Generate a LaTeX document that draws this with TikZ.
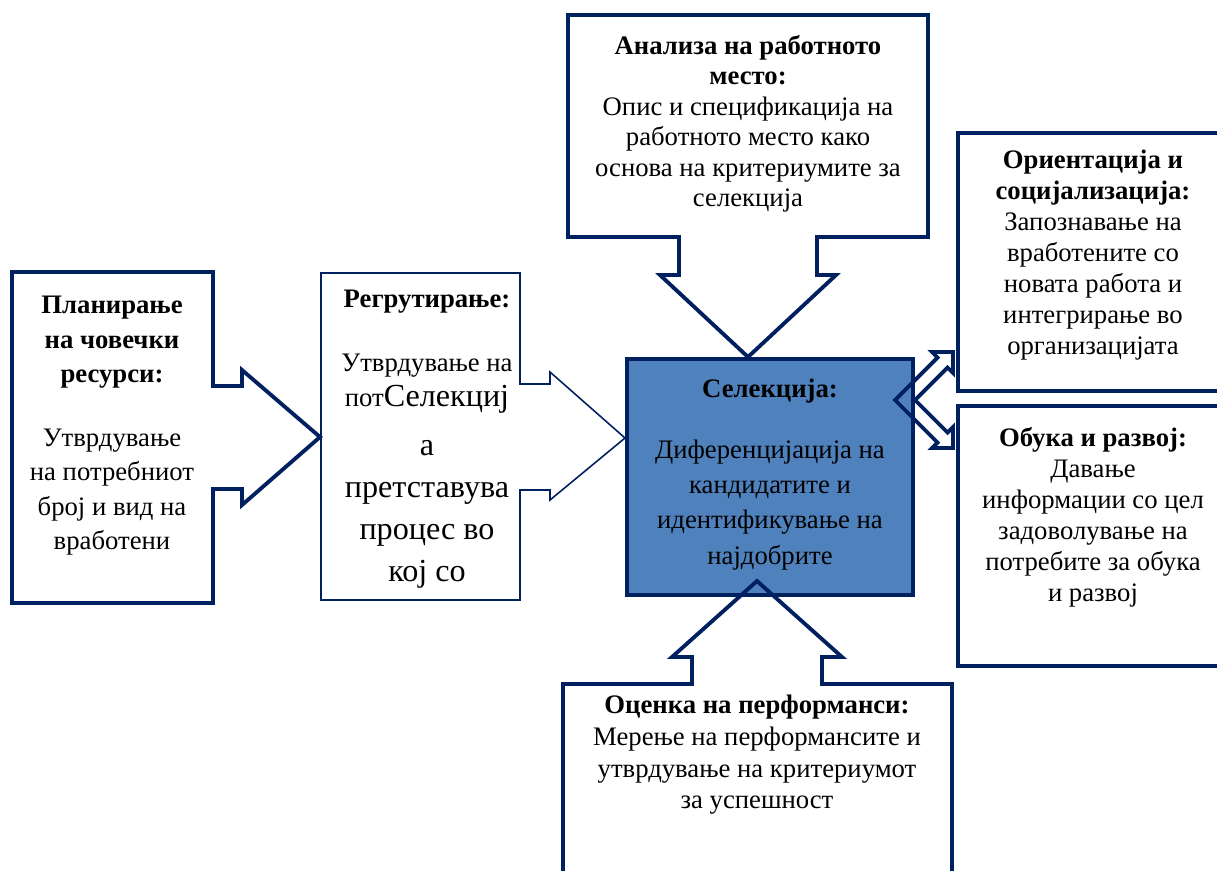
\documentclass[tikz,border=0pt]{standalone}
\usepackage{fontspec}
\setmainfont{Liberation Serif}
\usepackage{xcolor}
\definecolor{navy}{HTML}{002060}
\definecolor{selblue}{HTML}{4F81BD}

\begin{document}
\begin{tikzpicture}[x=0.02cm, y=-0.02cm]
        % ================= 样式定义 =================
        \tikzset{
            % 粗深蓝边框 (标注框)
            thick_edge/.style={draw=navy, line width=2.2pt, line join=miter},
            % 细边框 (招聘框)
            thin_edge/.style={draw=navy, line width=0.9pt, line join=miter},
            % 中心蓝色方框
            sel_box/.style={draw=navy, line width=2.4pt, fill=selblue},
            % 文本
            box_text/.style={align=center, inner sep=0pt, anchor=north, font=\fontsize{15.2}{19.6}\selectfont}
        }

        % ================= 画布 =================
        \useasboundingbox (0,0) rectangle (1217,870);
        \clip (0,0) rectangle (1217,870);

        % ================= 形状 =================
        % 中心方框
        \draw[sel_box] (627,359) rectangle (913,595);

        % 左侧标注框 (箭头向右)
        \draw[thick_edge] (12,272) -- (213,272) -- (213,386) -- (242,386) -- (242,370) -- (320,437)
            -- (242,505) -- (242,489) -- (213,489) -- (213,603) -- (12,603) -- cycle;
        % 招聘标注框 (细线)
        \draw[thin_edge] (321,273) -- (520,273) -- (520,384) -- (550,384) -- (550,372) -- (625,438)
            -- (550,500) -- (550,490) -- (520,490) -- (520,600) -- (321,600) -- cycle;
        % 上方标注框 (箭头向下)
        \draw[thick_edge] (568,15) -- (928,15) -- (928,237) -- (817,237) -- (817,275) -- (836,275)
            -- (748,357) -- (660,275) -- (679,275) -- (679,237) -- (568,237) -- cycle;
        % 下方标注框 (箭头向上)
        \draw[thick_edge] (563,900) -- (563,684) -- (692,684) -- (692,657) -- (672,657) -- (757,581)
            -- (842,657) -- (822,657) -- (822,684) -- (952,684) -- (952,900);
        % 右侧两个方框
        \draw[thick_edge] (1240,133) -- (958,133) -- (958,391) -- (1240,391);
        \draw[thick_edge] (1240,406) -- (958,406) -- (958,666) -- (1240,666);
        % 双向弯箭头
        \draw[thick_edge] (895,400) -- (937.5,357.5) -- (932,352) -- (953,352) -- (953,373) -- (947.5,367.5)
            -- (915,400) -- (947.5,432.5) -- (953,427) -- (953,448) -- (932,448) -- (937.5,442.5) -- cycle;

        % ================= 文本 =================
        \node[box_text] (plan_text) at (112,296) {\textbf{Планирање}\\\textbf{на човечки}\\\textbf{ресурси:}\\[16.5pt]
            Утврдување\\на потребниот\\број и вид на\\вработени};
        \node[box_text] (reg_title) at (427,290) {\textbf{Регрутирање:}};
        \node[box_text] (reg_small) at (427,354) {Утврдување на\\пот{\fontsize{18.3}{24}\selectfont Селекциј}};
        \node[box_text, font=\fontsize{18.3}{24}\selectfont] (reg_big) at (427,440) {а\\претставува\\процес во\\кој со};
        \node[box_text, font=\fontsize{15.2}{17.3}\selectfont] (job_text) at (748,35) {\textbf{Анализа на работното}\\\textbf{место:}\\
            Опис и спецификација на\\работното место како\\основа на критериумите за\\селекција};
        \node[box_text, font=\fontsize{15.2}{20}\selectfont] (sel_text) at (770,379) {\textbf{Селекција:}\\[14.6pt]Диференцијација на\\кандидатите и\\идентификување на\\најдобрите};
        \node[box_text, font=\fontsize{15.2}{17.6}\selectfont] (orient_text) at (1093,150) {\textbf{Ориентација и}\\\textbf{социјализација:}\\
            Запознавање на\\вработените со\\новата работа и\\интегрирање во\\организацијата};
        \node[box_text, font=\fontsize{15.2}{17.6}\selectfont] (train_text) at (1093,427) {\textbf{Обука и развој:}\\Давање\\
            информации со цел\\задоволување на\\потребите за обука\\и развој};
        \node[box_text, font=\fontsize{15.2}{18}\selectfont] (perf_text) at (757,695) {\textbf{Оценка на перформанси:}\\
            Мерење на перформансите и\\утврдување на критериумот\\за успешност};

    \end{tikzpicture}
\end{document}
